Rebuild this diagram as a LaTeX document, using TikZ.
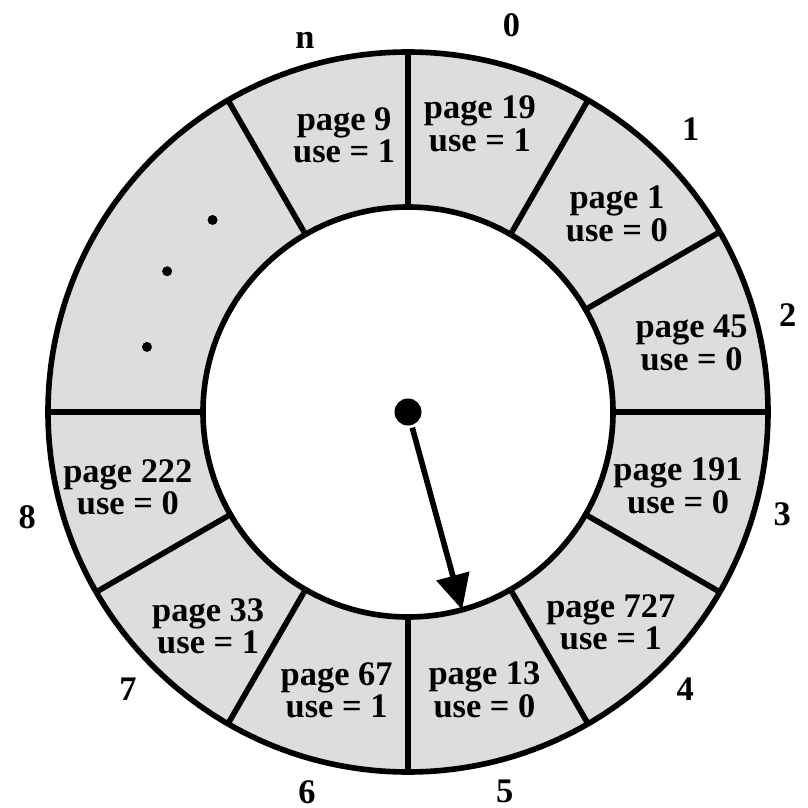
\documentclass[tikz,border=0pt]{standalone}
\usepackage{fontspec}
\setmainfont{Liberation Serif}
\usetikzlibrary{arrows.meta}
\definecolor{ringgray}{RGB}{221,221,221}
\begin{document}
\begin{tikzpicture}[line width=1.6pt,
  cell/.style={font=\bfseries\fontsize{9.8}{9.2}\selectfont, align=center, inner sep=0pt},
  slotnum/.style={font=\bfseries\fontsize{9.8}{9.2}\selectfont, inner sep=0pt}]
\useasboundingbox (-4.08,-3.96) rectangle (3.99,4.12);
% ring of frames
\fill[ringgray, even odd rule] (0,0) circle (3.6) (0,0) circle (2.05);
\draw (0,0) circle (3.6) (0,0) circle (2.05);
\foreach \a in {90,60,...,-150,180,120} \draw (\a:2.05) -- (\a:3.6);
% frame contents
\foreach \a/\r/\p/\u [count=\i] in {103/2.84/9/1, 76/2.97/19/1, 43.5/2.88/1/0, 13.7/2.92/45/0,
  -15.3/2.8/191/0, -46/2.92/727/1, -74.6/2.88/13/0, -104.4/2.87/67/1, -133/2.93/33/1, -165/2.9/222/0}
  \node[cell] (cell\i) at (\a:\r) {page \p\\use = \u};
% frame numbers
\foreach \a/\r/\t in {75/4.0/0, 45/4.0/1, 14.3/3.92/2, -15.3/3.88/3, -45/3.92/4, -75.7/3.92/5,
  -104.9/3.93/6, -135.3/3.94/7, -164.6/3.95/8, 105.5/3.86/n}
  \node[slotnum] (num\t) at (\a:\r) {\t};
% elided frames
\foreach \a/\r [count=\i] in {135.5/2.74, 149.7/2.79, 166/2.69}
  \fill (\a:\r) coordinate (gap\i) circle (0.05);
% clock hand
\node[circle, fill, inner sep=0pt, minimum size=0.27cm] (hub) at (0,0) {};
\coordinate (tip) at (-74.7:2.05);
\draw[-{Triangle[length=0.35cm, width=0.33cm]}] (hub) -- (tip);
\end{tikzpicture}
\end{document}
